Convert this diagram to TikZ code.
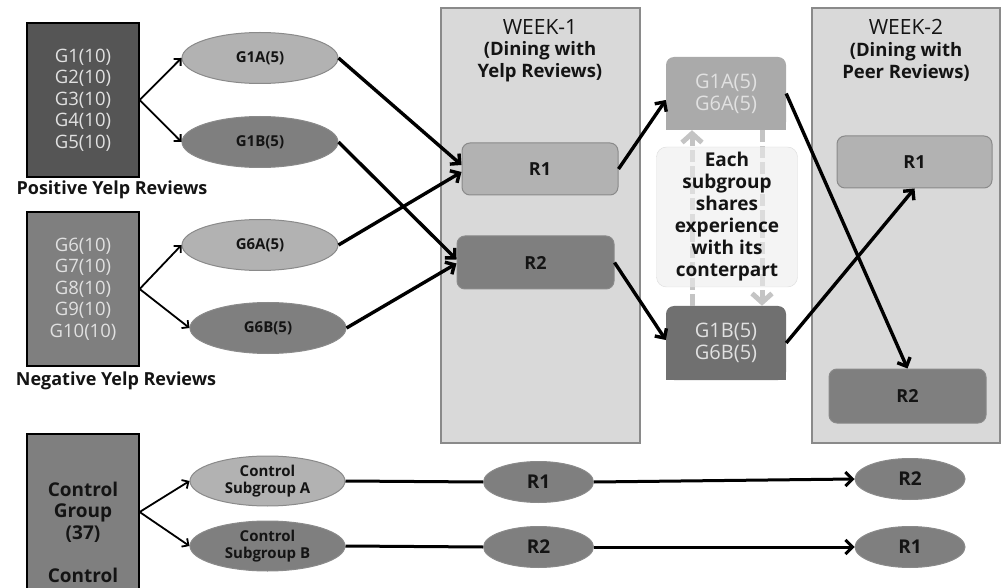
\documentclass[tikz,border=0pt]{standalone}
\usepackage{fontspec}
\setmainfont{Open Sans}
\usetikzlibrary{positioning}
\usetikzlibrary{arrows.meta}
\usetikzlibrary{shapes.geometric}
\definecolor{darkbox}{RGB}{85,85,85}
\definecolor{midbox}{RGB}{127,127,127}
\definecolor{lightbox}{RGB}{178,178,178}
\definecolor{pairlight}{RGB}{170,170,170}
\definecolor{pairdark}{RGB}{112,112,112}
\definecolor{weekbg}{RGB}{217,217,217}
\definecolor{edgegray}{RGB}{138,138,138}
\definecolor{paletext}{RGB}{225,225,225}
\definecolor{notebg}{RGB}{236,236,236}
\definecolor{dashgray}{RGB}{196,196,196}
\definecolor{ink}{RGB}{20,20,20}
\newcommand{\setfs}[2]{\fontsize{#1}{#2}\selectfont}
\tikzset{
        every node/.style={align=center,inner sep=0pt},
        grpbox/.style={rectangle,draw=black,line width=1.3pt,minimum width=112pt,text=paletext,font=\setfs{18.5}{21.5}},
        grplabel/.style={text=ink,font=\bfseries\setfs{18}{20}},
        subell/.style={ellipse,draw=edgegray,line width=1pt,minimum width=156pt,minimum height=51pt,text=ink,font=\bfseries\setfs{15}{17.5}},
        weekbox/.style={rectangle,draw=edgegray,line width=1.5pt,fill=weekbg,minimum height=435pt},
        weektitle/.style={text=ink,font=\setfs{21}{22}},
        weeksub/.style={text=ink,font=\bfseries\setfs{18.5}{22}},
        roombox/.style={rectangle,rounded corners=8pt,draw=edgegray,line width=1pt,minimum width=156pt,minimum height=52pt,text=ink,font=\bfseries\setfs{18}{20}},
        pairbox/.style={rectangle,rounded corners=8pt,minimum width=120pt,minimum height=73pt,text=paletext,font=\setfs{20}{22}},
        notebox/.style={rectangle,rounded corners=10pt,draw=dashgray!60,fill=notebg,fill opacity=0.6,text opacity=1,minimum width=141pt,minimum height=140pt,text=ink,font=\bfseries\setfs{19}{22}},
        roomell/.style={ellipse,draw=edgegray,line width=1pt,fill=midbox,minimum width=110pt,minimum height=41pt,text=ink,font=\bfseries\setfs{19}{20}},
        thinarrow/.style={-{Straight Barb[length=5pt,width=10pt]},line width=1.8pt},
        bigarrow/.style={-{Straight Barb[length=7pt,width=14pt]},line width=3.4pt},
        ctlline/.style={line width=3pt},
        sharearrow/.style={-{Straight Barb[length=9pt,width=20pt]},line width=5pt,draw=dashgray,dash pattern=on 12pt off 4pt},
        }

\begin{document}
\begin{tikzpicture}[x=1pt,y=-1pt]
        \useasboundingbox (0,0) rectangle (1002,588);

        % group boxes...................
        \node [grpbox,fill=darkbox,minimum height=154pt] (pos) at (83,100) {G1(10)\\G2(10)\\G3(10)\\G4(10)\\G5(10)};
        \node [grplabel] (poslbl) at (112,190) {Positive Yelp Reviews};
        \node [grpbox,fill=midbox,minimum height=154pt] (neg) at (83,289) {G6(10)\\G7(10)\\G8(10)\\G9(10)\\G10(10)};
        \node [grplabel] (neglbl) at (116,381) {Negative Yelp Reviews};

        % subgroups...................
        \node [subell,fill=lightbox] (g1a) at (260,58) {G1A(5)};
        \node [subell,fill=midbox] (g1b) at (260,142) {G1B(5)};
        \node [subell,fill=lightbox] (g6a) at (260,245) {G6A(5)};
        \node [subell,fill=midbox] (g6b) at (268,328) {G6B(5)};

        \draw [thinarrow] (pos.east) -- (g1a.west);
        \draw [thinarrow] (pos.east) -- (g1b.west);
        \draw [thinarrow] (neg.east) -- (g6a.west);
        \draw [thinarrow] (neg.east) -- (g6b.west);

        % week 1 column...................
        \node [weekbox,minimum width=199pt] (wk1) at (540.5,225.5) {};
        \node [weektitle] (wk1t) at (540,27) {WEEK-1};
        \node [weeksub] (wk1s) at (540,62) {(Dining with\\Yelp Reviews)};
        \node [roombox,fill=lightbox] (r1a) at (540,169) {R1};
        \node [roombox,fill=midbox,minimum width=157pt,minimum height=53pt] (r2a) at (535.5,262.5) {R2};

        \draw [bigarrow] (g1a.east) -- ([yshift=4pt]r1a.west);
        \draw [bigarrow] (g6a.east) -- ([yshift=-3pt]r1a.west);
        \draw [bigarrow] (g1b.east) -- ([yshift=3pt]r2a.west);
        \draw [bigarrow] (g6b.east) -- ([yshift=-1pt]r2a.west);

        % merged subgroups...................
        \fill [pairlight] (666,94) rectangle (786,130);
        \node [pairbox,fill=pairlight] (pa) at (726,93.5) {G1A(5)\\G6A(5)};
        \fill [pairdark] (666,343) rectangle (786,380);
        \node [pairbox,fill=pairdark,minimum height=74pt] (pb) at (726,343) {G1B(5)\\G6B(5)};

        \draw [bigarrow] (r1a.east) -- ([yshift=-6.5pt]pa.west);
        \draw [bigarrow] (r2a.east) -- ([yshift=3pt]pb.west);

        % sharing note...................
        \draw [sharearrow] ([xshift=-34pt]pb.north) -- ([xshift=-34pt]pa.south);
        \draw [sharearrow] ([xshift=36pt]pa.south) -- ([xshift=36pt]pb.north);
        \node [notebox] (share) at (727,217) {Each\\subgroup\\shares\\experience\\with its\\conterpart};

        % week 2 column...................
        \node [weekbox,minimum width=188pt] (wk2) at (906,225.5) {};
        \node [weektitle] (wk2t) at (906,27) {WEEK-2};
        \node [weeksub] (wk2s) at (906,62) {(Dining with\\Peer Reviews)};
        \node [roombox,fill=lightbox,minimum width=155pt] (r1b) at (914.5,162) {R1};
        \node [roombox,fill=midbox,minimum width=157pt,minimum height=54pt] (r2b) at (907.5,396) {R2};

        \draw [bigarrow] (pa.east) -- (r2b.north);
        \draw [bigarrow] (pb.east) -- (r1b.south);

        % control group...................
        \node [grpbox,fill=midbox,minimum height=196pt,text=ink,font=\bfseries\setfs{19}{21.5}] (ctl) at (83,532) {Control\\Group\\(37)\\[21.5pt]Control};
        \node [subell,fill=lightbox,minimum width=155pt,minimum height=50pt] (csa) at (267.5,481) {Control\\Subgroup A};
        \node [subell,fill=midbox,minimum width=155pt,minimum height=50pt] (csb) at (267.5,546) {Control\\Subgroup B};

        \draw [thinarrow] ([yshift=20pt]ctl.east) -- (csa.west);
        \draw [thinarrow] ([yshift=20pt]ctl.east) -- (csb.west);

        % control rooms...................
        \node [roomell] (c1) at (538.5,482) {R1};
        \node [roomell] (c2) at (538.5,547) {R2};
        \node [roomell] (c3) at (910,479) {R2};
        \node [roomell] (c4) at (910,547) {R1};

        \draw [ctlline] (csa.east) -- (c1.west);
        \draw [ctlline] (csb.east) -- (c2.west);
        \draw [bigarrow,line width=3pt] (c1.east) -- (c3.west);
        \draw [bigarrow,line width=3pt] (c2.east) -- (c4.west);
\end{tikzpicture}
\end{document}
